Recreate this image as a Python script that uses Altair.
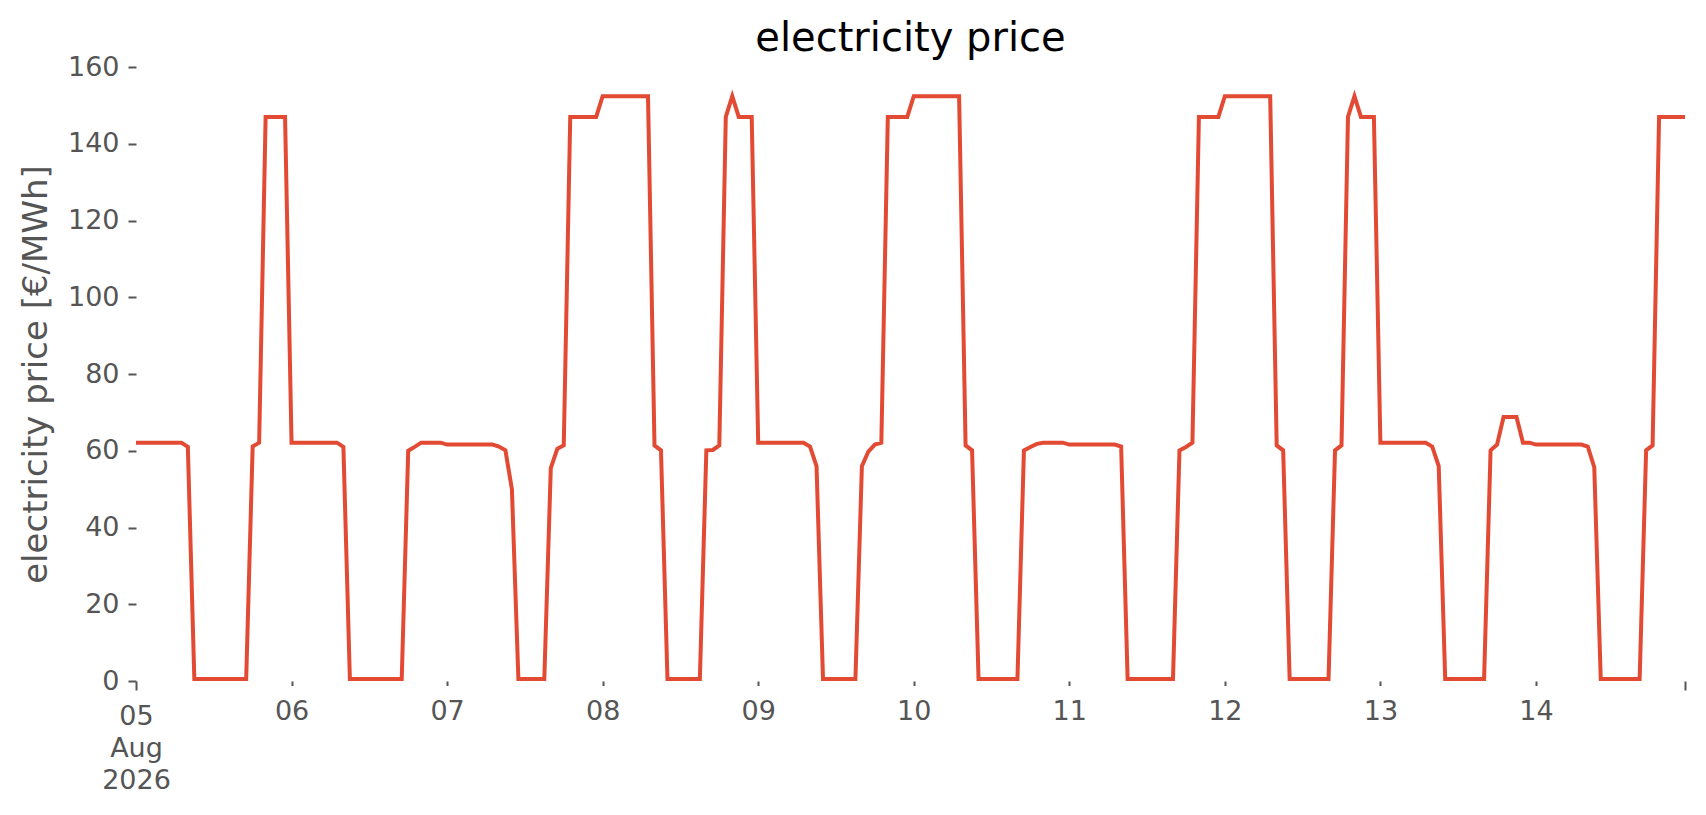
import altair as alt
import pandas as pd

# hourly electricity prices [EUR/MWh], one list per day (00:00 .. 23:00, UTC)
day_05 = [62.1, 62.1, 62.1, 62.1, 62.1, 62.1, 62.1, 62.1, 61.0, 0.5, 0.5, 0.5,
          0.5, 0.5, 0.5, 0.5, 0.5, 0.5, 61.1, 62.1, 147.0, 147.0, 147.0, 147.0]
day_06 = [62.1, 62.1, 62.1, 62.1, 62.1, 62.1, 62.1, 62.1, 61.0, 0.5, 0.5, 0.5,
          0.5, 0.5, 0.5, 0.5, 0.5, 0.5, 60.0, 61.0, 62.1, 62.1, 62.1, 62.1]
day_07 = [61.6, 61.6, 61.6, 61.6, 61.6, 61.6, 61.6, 61.6, 61.1, 60.1, 50.0, 0.5,
          0.5, 0.5, 0.5, 0.5, 55.5, 60.5, 61.4, 147.0, 147.0, 147.0, 147.0, 147.0]
day_08 = [152.4, 152.4, 152.4, 152.4, 152.4, 152.4, 152.4, 152.4, 61.4, 60.1, 0.5, 0.5,
          0.5, 0.5, 0.5, 0.5, 60.1, 60.2, 61.4, 147.0, 152.4, 147.0, 147.0, 147.0]
day_09 = [62.1, 62.1, 62.1, 62.1, 62.1, 62.1, 62.1, 62.1, 61.1, 56.0, 0.5, 0.5,
          0.5, 0.5, 0.5, 0.5, 56.0, 59.8, 61.6, 62.1, 147.0, 147.0, 147.0, 147.0]
day_10 = [152.4, 152.4, 152.4, 152.4, 152.4, 152.4, 152.4, 152.4, 61.4, 60.1, 0.5, 0.5,
          0.5, 0.5, 0.5, 0.5, 0.5, 60.1, 61.0, 61.8, 62.1, 62.1, 62.1, 62.1]
day_11 = [61.6, 61.6, 61.6, 61.6, 61.6, 61.6, 61.6, 61.6, 61.1, 0.5, 0.5, 0.5,
          0.5, 0.5, 0.5, 0.5, 0.5, 60.1, 61.0, 62.1, 147.0, 147.0, 147.0, 147.0]
day_12 = [152.4, 152.4, 152.4, 152.4, 152.4, 152.4, 152.4, 152.4, 61.4, 60.1, 0.5, 0.5,
          0.5, 0.5, 0.5, 0.5, 0.5, 60.1, 61.4, 147.0, 152.4, 147.0, 147.0, 147.0]
day_13 = [62.1, 62.1, 62.1, 62.1, 62.1, 62.1, 62.1, 62.1, 61.1, 56.0, 0.5, 0.5,
          0.5, 0.5, 0.5, 0.5, 0.5, 60.1, 61.6, 68.8, 68.8, 68.8, 62.1, 62.1]
day_14 = [61.6, 61.6, 61.6, 61.6, 61.6, 61.6, 61.6, 61.6, 61.1, 55.7, 0.5, 0.5,
          0.5, 0.5, 0.5, 0.5, 0.5, 60.1, 61.4, 147.0, 147.0, 147.0, 147.0, 147.0]

days = ["2026-08-05", "2026-08-06", "2026-08-07", "2026-08-08", "2026-08-09",
        "2026-08-10", "2026-08-11", "2026-08-12", "2026-08-13", "2026-08-14"]
day_values = [day_05, day_06, day_07, day_08, day_09,
              day_10, day_11, day_12, day_13, day_14]
y_ticks = [0, 20, 40, 60, 80, 100, 120, 140, 160]

rows = []
for d, vals in zip(days, day_values):
    for h, v in enumerate(vals):
        rows.append({"time": f"{d}T{h:02d}:00:00Z", "price": v})
df = pd.DataFrame(rows)

tick_values = [alt.DateTime(year=2026, month=8, date=int(d[-2:]), hours=0, utc=True) for d in days]
tick_values.append(alt.DateTime(year=2026, month=8, date=14, hours=23, utc=True))

FONT = "DejaVu Sans"
GREY = "#555555"

x_axis = alt.Axis(
    values=tick_values,
    title=None,
    grid=False,
    domain=False,
    tickColor=GREY,
    tickWidth=2,
    tickSize={"condition": {"test": "utcFormat(datum.value, '%d') == '05' || utcFormat(datum.value, '%H') == '23'", "value": 9},
              "value": 4.5},
    labelPadding=13,
    labelFont=FONT,
    labelFontSize=27,
    labelColor=GREY,
    labelLineHeight=32,
    labelAngle=0,
    labelAlign="center",
    labelBaseline="top",
    labelExpr="utcFormat(datum.value, '%H') == '23' ? '' : (utcFormat(datum.value, '%d') == '05' ? ['05', 'Aug', '2026'] : utcFormat(datum.value, '%d'))",
)

y_axis = alt.Axis(
    values=y_ticks,
    title="electricity price [€/MWh]",
    grid=False,
    domain=False,
    tickColor=GREY,
    tickWidth=2,
    tickSize=8,
    labelPadding=9,
    labelFont=FONT,
    labelFontSize=27,
    labelColor=GREY,
    titleFont=FONT,
    titleFontSize=34,
    titleFontWeight="normal",
    titleColor=GREY,
    titlePadding=14,
)

chart = alt.Chart(df).mark_line(color="#E24A33", strokeWidth=4, interpolate="linear").encode(
    x=alt.X("time:T", axis=x_axis,
            scale=alt.Scale(type="utc", domain=[alt.DateTime(year=2026, month=8, date=5, hours=0, utc=True),
                                                alt.DateTime(year=2026, month=8, date=14, hours=23, utc=True)],
                            nice=False)),
    y=alt.Y("price:Q", axis=y_axis, scale=alt.Scale(domain=[0, 160], nice=False, zero=True)),
).properties(
    width=1549,
    height=614,
    title=alt.TitleParams("electricity price", font=FONT, fontSize=40, fontWeight="normal",
                          color="black", anchor="middle", frame="group", offset=8, dy=14),
    autosize=alt.AutoSizeParams(type="none"),
    padding={"left": 128, "top": 59, "right": 13, "bottom": 126},
    background="white",
).configure_view(stroke=None)

chart.save("out.html", embed_options={"renderer": "svg", "actions": False})
